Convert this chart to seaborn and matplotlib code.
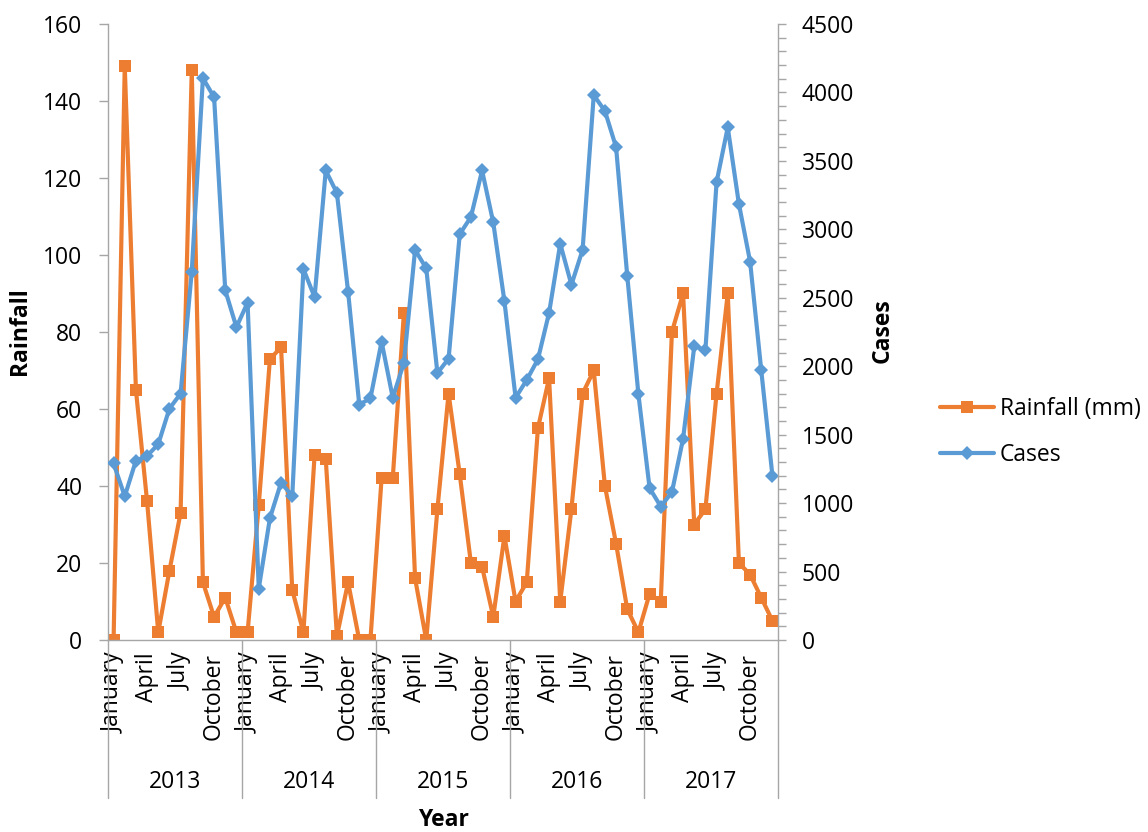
import numpy as np
import pandas as pd
import matplotlib
matplotlib.use("Agg")
import matplotlib.pyplot as plt
import matplotlib.transforms as mtransforms
from matplotlib.lines import Line2D
from matplotlib.ticker import MultipleLocator
import seaborn as sns

# ---- data -------------------------------------------------------------
years = [2013, 2014, 2015, 2016, 2017]
months = ["January", "February", "March", "April", "May", "June", "July",
          "August", "September", "October", "November", "December"]

rainfall_mm = [
    0, 149, 65, 36, 2, 18, 33, 148, 15, 6, 11, 2,        # 2013
    2, 35, 73, 76, 13, 2, 48, 47, 1, 15, 0, 0,           # 2014
    42, 42, 85, 16, 0, 34, 64, 43, 20, 19, 6, 27,        # 2015
    10, 15, 55, 68, 10, 34, 64, 70, 40, 25, 8, 2,        # 2016
    12, 10, 80, 90, 30, 34, 64, 90, 20, 17, 11, 5,       # 2017
]
cases = [
    1290, 1050, 1310, 1345, 1430, 1690, 1800, 2690, 4105, 3965, 2555, 2285,
    2465, 375, 890, 1150, 1050, 2710, 2505, 3430, 3265, 2545, 1720, 1765,
    2180, 1770, 2025, 2850, 2715, 1950, 2055, 2965, 3090, 3430, 3050, 2475,
    1770, 1900, 2050, 2390, 2895, 2595, 2850, 3980, 3865, 3600, 2660, 1795,
    1110, 975, 1080, 1470, 2145, 2120, 3345, 3745, 3185, 2765, 1970, 1200,
]
shown_months = ["January", "April", "July", "October"]

# ---- table ------------------------------------------------------------
df = pd.DataFrame({
    "year": np.repeat(years, len(months)),
    "month": months * len(years),
    "rainfall": rainfall_mm,
    "cases": cases,
})
df["pos"] = np.arange(len(df))

# ---- style ------------------------------------------------------------
sns.set_theme(style="white")
plt.rcParams["font.family"] = ["Open Sans", "DejaVu Sans"]
plt.rcParams["text.color"] = "black"
plt.rcParams["xtick.labelcolor"] = "black"
plt.rcParams["ytick.labelcolor"] = "black"

ORANGE = "#ED7D31"
BLUE = "#5B9BD5"
GREY = "#A6A6A6"
FS = 16.5
W, H = 1148, 832

fig = plt.figure(figsize=(W / 100, H / 100), dpi=100)
ax = fig.add_axes([108 / W, (H - 640) / H, 670 / W, 616 / H])
ax2 = ax.twinx()

sns.lineplot(data=df, x="pos", y="rainfall", ax=ax, color=ORANGE,
             linewidth=3.0, marker="s", markersize=9.3, markeredgewidth=0,
             label="Rainfall (mm)", legend=False)
sns.lineplot(data=df, x="pos", y="cases", ax=ax2, color=BLUE,
             linewidth=3.0, marker="D", markersize=6.7, markeredgewidth=0,
             label="Cases", legend=False)

n = len(df)
ax.set_xlim(-0.5, n - 0.5)
ax.set_ylim(0, 160)
ax2.set_ylim(0, 4500)

# left axis
ax.yaxis.set_major_locator(MultipleLocator(20))
ax.tick_params(axis="y", which="major", direction="out", length=6.5,
               width=1, color=GREY, labelcolor="black", pad=12,
               labelsize=FS, left=True)
ax.set_ylabel("")
ax.set_xlabel("")

# right axis
ax2.yaxis.set_major_locator(MultipleLocator(500))
ax2.yaxis.set_minor_locator(MultipleLocator(100))
ax2.tick_params(axis="y", which="both", direction="out", length=6,
                width=1, color=GREY, labelcolor="black", pad=11,
                labelsize=FS, right=True)
ax2.set_ylabel("")

for a in (ax, ax2):
    a.spines["top"].set_visible(False)
    for s in a.spines.values():
        s.set_color(GREY)
        s.set_linewidth(1)
ax.spines["right"].set_visible(False)
ax2.spines["left"].set_visible(False)
ax2.spines["bottom"].set_visible(False)

# month labels (every third month)
shown = df["month"].isin(shown_months)
ax.set_xticks(df.loc[shown, "pos"].to_list())
ax.set_xticklabels(df.loc[shown, "month"].to_list(), rotation=90, fontsize=FS)
ax.tick_params(axis="x", length=0, pad=9, labelcolor="black")

# year group labels and separators
trans = mtransforms.blended_transform_factory(ax.transData, ax.transAxes)
for k, yr in enumerate(years):
    centre = k * len(months) + (len(months) - 1) / 2
    ax.text(centre, (640 - 782) / 616, str(yr), transform=trans,
            ha="center", va="center", fontsize=FS, color="black")
for k in range(len(years) + 1):
    xb = k * len(months) - 0.5
    ax.add_line(Line2D([xb, xb], [0, (640 - 798) / 616], transform=trans,
                       color=GREY, linewidth=1, clip_on=False))

# axis titles
fig.text(20 / W, 1 - 331 / H, "Rainfall", rotation=90, ha="center",
         va="center", fontsize=FS, fontweight="bold", color="black")
fig.text(883 / W, 1 - 331 / H, "Cases", rotation=90, ha="center",
         va="center", fontsize=FS, fontweight="bold", color="black")
fig.text(443 / W, 1 - 820 / H, "Year", ha="center", va="center",
         fontsize=FS, fontweight="bold", color="black")

# legend
handles = [
    Line2D([], [], color=ORANGE, linewidth=3.0, marker="s", markersize=9.3,
           markeredgewidth=0),
    Line2D([], [], color=BLUE, linewidth=3.0, marker="D", markersize=6.7,
           markeredgewidth=0),
]
leg = fig.legend(handles, ["Rainfall (mm)", "Cases"], loc="center left",
                 bbox_to_anchor=(940 / W, 1 - 432 / H), frameon=False,
                 fontsize=FS, handlelength=2.35, handletextpad=0.25,
                 labelspacing=0.95, borderpad=0, borderaxespad=0)
for t in leg.get_texts():
    t.set_color("black")

fig.savefig("out.png", dpi=100)
